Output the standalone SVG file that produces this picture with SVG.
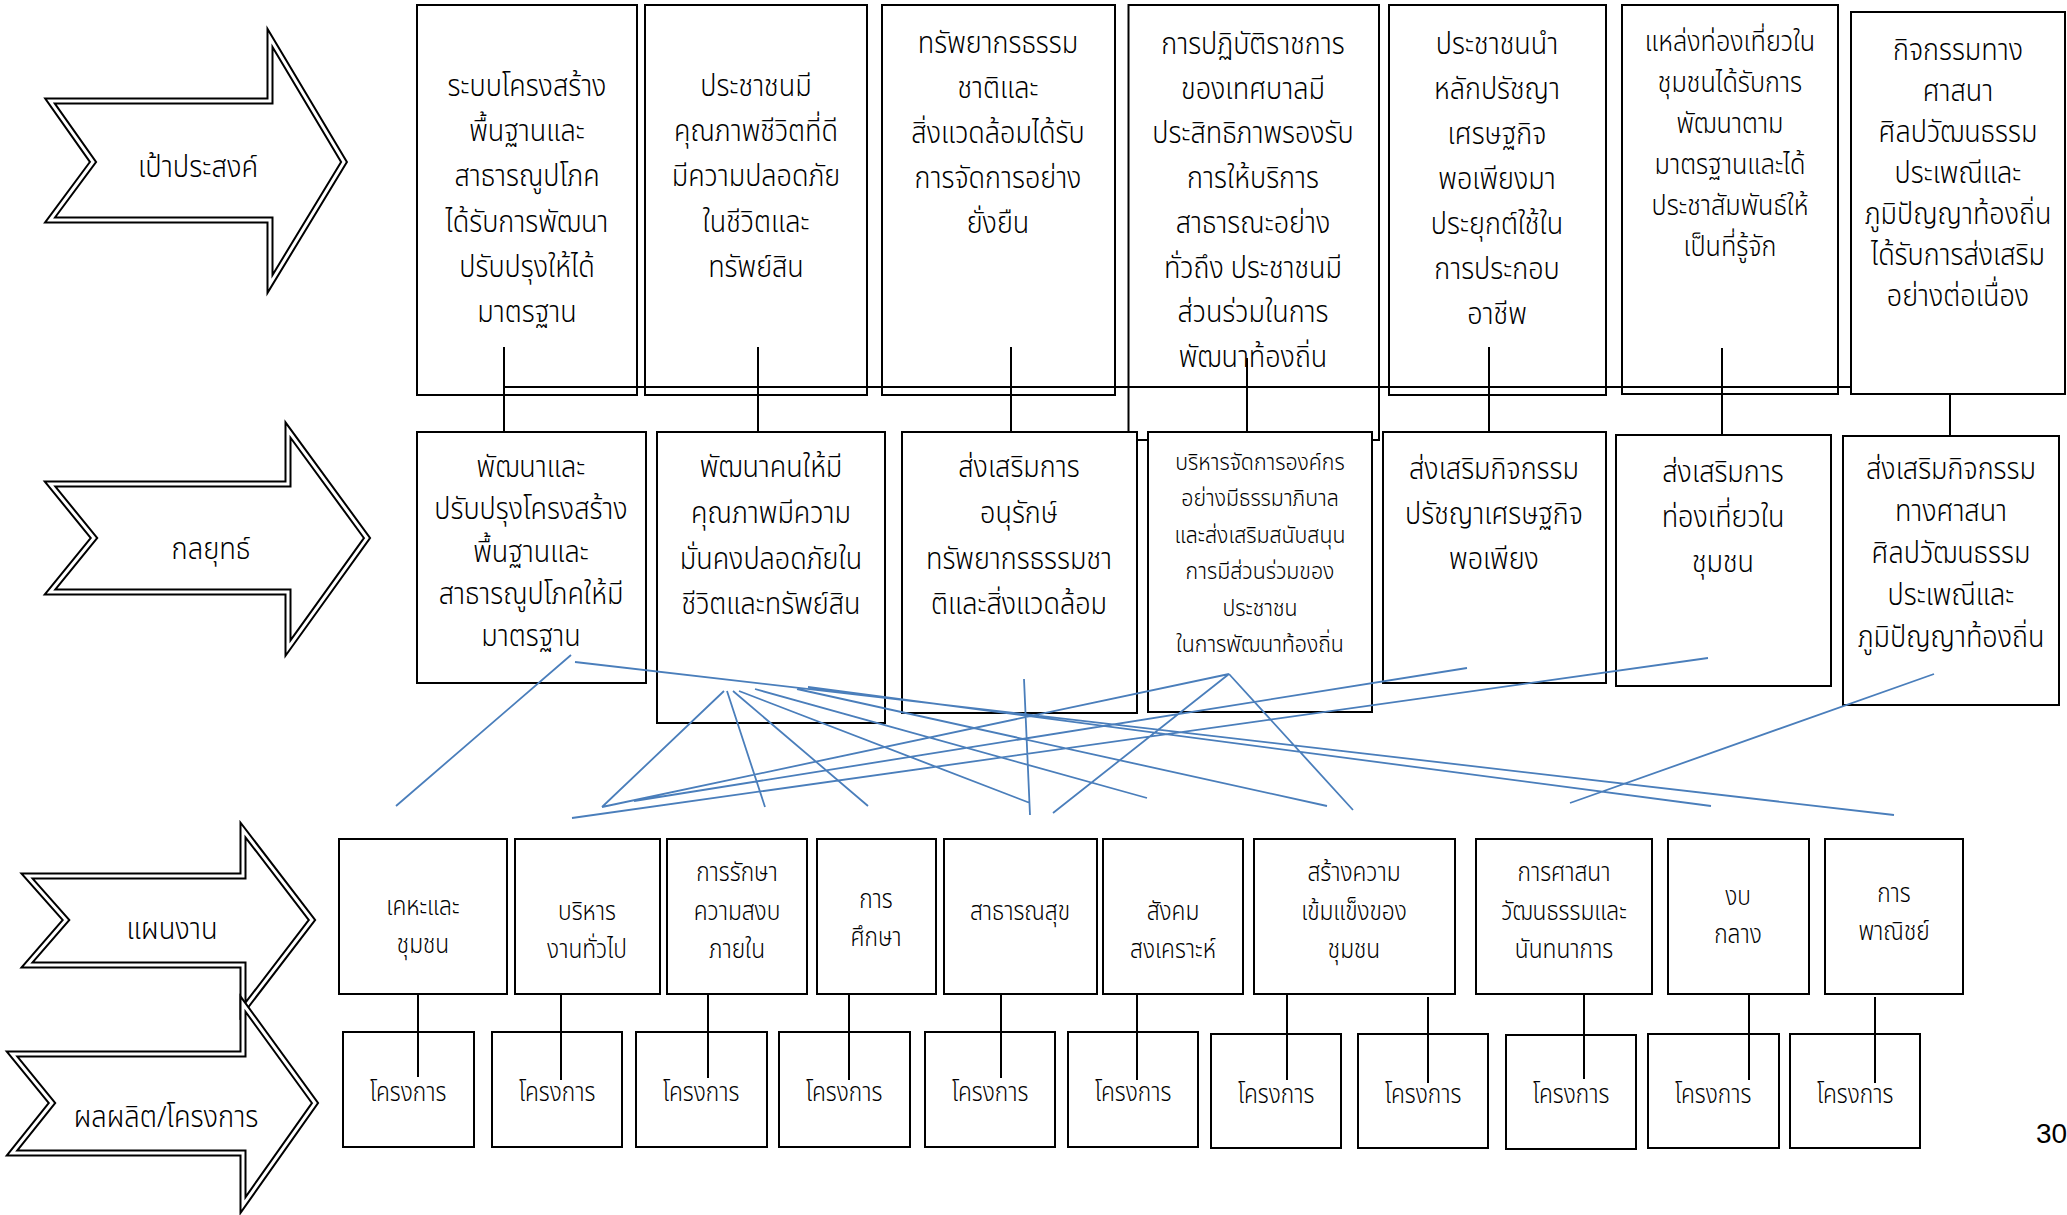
<svg xmlns="http://www.w3.org/2000/svg" width="2067" height="1215" viewBox="0 0 2067 1215">
<style>
.bx{fill:#fff;stroke:#000;stroke-width:2}
.t{font-family:"Noto Sans Thai","Noto Sans Thai UI","Noto Sans","DejaVu Sans",sans-serif;font-weight:300;fill:#000;text-anchor:middle}
.f30{font-size:30px}.f28{font-size:28px}.f24{font-size:24px}.f26{font-size:26px}
.ao{fill:#fff;stroke:#000;stroke-width:7;stroke-linejoin:miter}
.ai{fill:none;stroke:#fff;stroke-width:3;stroke-linejoin:miter}
.k{stroke:#000;stroke-width:2;fill:none}
.b{stroke:#4A7EBB;stroke-width:1.8;fill:none}
</style>
<rect width="2067" height="1215" fill="#fff"/>
<g id="arrow-goal">
<path class="ao" d="M50 101 H270 V38 L344 162 L270 284 V220 H50 L93 162 Z"/>
<path class="ai" d="M50 101 H270 V38 L344 162 L270 284 V220 H50 L93 162 Z"/>
<text class="t f30" transform="matrix(0.91 0 0 1 17.82 0)" x="198" y="177">เป้าประสงค์</text>
</g>
<g id="arrow-strategy">
<path class="ao" d="M50 484 H288 V430 L367 538 L288 648 V592 H50 L94 538 Z"/>
<path class="ai" d="M50 484 H288 V430 L367 538 L288 648 V592 H50 L94 538 Z"/>
<text class="t f30" transform="matrix(0.91 0 0 1 18.99 0)" x="211" y="559">กลยุทธ์</text>
</g>
<g id="arrow-plan">
<path class="ao" d="M27 876 H243 V830 L312 920 L243 1010 V965 H27 L66 920 Z"/>
<path class="ai" d="M27 876 H243 V830 L312 920 L243 1010 V965 H27 L66 920 Z"/>
<text class="t f30" transform="matrix(0.91 0 0 1 15.48 0)" x="172" y="939">แผนงาน</text>
</g>
<g id="arrow-output">
<path class="ao" d="M12 1054 H243 V1004 L315 1103 L243 1205 V1153 H12 L52 1103 Z"/>
<path class="ai" d="M12 1054 H243 V1004 L315 1103 L243 1205 V1153 H12 L52 1103 Z"/>
<text class="t f30" transform="matrix(0.91 0 0 1 14.94 0)" x="166" y="1127">ผลผลิต/โครงการ</text>
</g>
<g id="goal1"><rect class="bx" x="417" y="5" width="220" height="390"/>
<text class="t f30" transform="matrix(0.9 0 0 1 52.7 0)"><tspan x="527" y="96">ระบบโครงสร้าง</tspan><tspan x="527" y="141">พื้นฐานและ</tspan><tspan x="527" y="186">สาธารณูปโภค</tspan><tspan x="527" y="232">ได้รับการพัฒนา</tspan><tspan x="527" y="277">ปรับปรุงให้ได้</tspan><tspan x="527" y="322">มาตรฐาน</tspan></text></g>
<g id="goal2"><rect class="bx" x="645" y="5" width="222" height="390"/>
<text class="t f30" transform="matrix(0.9 0 0 1 75.6 0)"><tspan x="756" y="96">ประชาชนมี</tspan><tspan x="756" y="141">คุณภาพชีวิตที่ดี</tspan><tspan x="756" y="186">มีความปลอดภัย</tspan><tspan x="756" y="232">ในชีวิตและ</tspan><tspan x="756" y="277">ทรัพย์สิน</tspan></text></g>
<g id="goal3"><rect class="bx" x="882" y="5" width="233" height="390"/>
<text class="t f30" transform="matrix(0.9 0 0 1 99.8 0)"><tspan x="998" y="53">ทรัพยากรธรรม</tspan><tspan x="998" y="98">ชาติและ</tspan><tspan x="998" y="143">สิ่งแวดล้อมได้รับ</tspan><tspan x="998" y="188">การจัดการอย่าง</tspan><tspan x="998" y="233">ยั่งยืน</tspan></text></g>
<g id="goal4"><rect class="bx" x="1128.5" y="5" width="250.5" height="435"/>
<text class="t f30" transform="matrix(0.9 0 0 1 125.3 0)"><tspan x="1253" y="54">การปฏิบัติราชการ</tspan><tspan x="1253" y="99">ของเทศบาลมี</tspan><tspan x="1253" y="143">ประสิทธิภาพรองรับ</tspan><tspan x="1253" y="188">การให้บริการ</tspan><tspan x="1253" y="233">สาธารณะอย่าง</tspan><tspan x="1253" y="278">ทั่วถึง ประชาชนมี</tspan><tspan x="1253" y="322">ส่วนร่วมในการ</tspan><tspan x="1253" y="367">พัฒนาท้องถิ่น</tspan></text></g>
<g id="goal5"><rect class="bx" x="1389" y="5" width="217" height="390"/>
<text class="t f30" transform="matrix(0.9 0 0 1 149.7 0)"><tspan x="1497" y="54">ประชาชนนำ</tspan><tspan x="1497" y="99">หลักปรัชญา</tspan><tspan x="1497" y="144">เศรษฐกิจ</tspan><tspan x="1497" y="189">พอเพียงมา</tspan><tspan x="1497" y="234">ประยุกต์ใช้ใน</tspan><tspan x="1497" y="279">การประกอบ</tspan><tspan x="1497" y="324">อาชีพ</tspan></text></g>
<g id="goal6"><rect class="bx" x="1622" y="5" width="216" height="389"/>
<text class="t f28" transform="matrix(0.9 0 0 1 173 0)"><tspan x="1730" y="51">แหล่งท่องเที่ยวใน</tspan><tspan x="1730" y="92">ชุมชนได้รับการ</tspan><tspan x="1730" y="133">พัฒนาตาม</tspan><tspan x="1730" y="174">มาตรฐานและได้</tspan><tspan x="1730" y="215">ประชาสัมพันธ์ให้</tspan><tspan x="1730" y="256">เป็นที่รู้จัก</tspan></text></g>
<g id="goal7"><rect class="bx" x="1851" y="12" width="214" height="382"/>
<text class="t f30" transform="matrix(0.9 0 0 1 195.8 0)"><tspan x="1958" y="60">กิจกรรมทาง</tspan><tspan x="1958" y="101">ศาสนา</tspan><tspan x="1958" y="142">ศิลปวัฒนธรรม</tspan><tspan x="1958" y="183">ประเพณีและ</tspan><tspan x="1958" y="224">ภูมิปัญญาท้องถิ่น</tspan><tspan x="1958" y="265">ได้รับการส่งเสริม</tspan><tspan x="1958" y="306">อย่างต่อเนื่อง</tspan></text></g>
<g id="strat1"><rect class="bx" x="417" y="432" width="229" height="251"/>
<text class="t f30" transform="matrix(0.9 0 0 1 53.1 0)"><tspan x="531" y="477">พัฒนาและ</tspan><tspan x="531" y="519">ปรับปรุงโครงสร้าง</tspan><tspan x="531" y="562">พื้นฐานและ</tspan><tspan x="531" y="604">สาธารณูปโภคให้มี</tspan><tspan x="531" y="646">มาตรฐาน</tspan></text></g>
<g id="strat2"><rect class="bx" x="657" y="432" width="228" height="291"/>
<text class="t f30" transform="matrix(0.9 0 0 1 77.1 0)"><tspan x="771" y="477">พัฒนาคนให้มี</tspan><tspan x="771" y="523">คุณภาพมีความ</tspan><tspan x="771" y="569">มั่นคงปลอดภัยใน</tspan><tspan x="771" y="614">ชีวิตและทรัพย์สิน</tspan></text></g>
<g id="strat3"><rect class="bx" x="902" y="432" width="235" height="281"/>
<text class="t f30" transform="matrix(0.9 0 0 1 101.9 0)"><tspan x="1019" y="477">ส่งเสริมการ</tspan><tspan x="1019" y="523">อนุรักษ์</tspan><tspan x="1019" y="569">ทรัพยากรธรรมชา</tspan><tspan x="1019" y="614">ติและสิ่งแวดล้อม</tspan></text></g>
<g id="strat4"><rect class="bx" x="1148" y="432" width="224" height="280"/>
<text class="t f24" transform="matrix(0.89 0 0 1 138.6 0)"><tspan x="1260" y="470">บริหารจัดการองค์กร</tspan><tspan x="1260" y="506">อย่างมีธรรมาภิบาล</tspan><tspan x="1260" y="543">และส่งเสริมสนับสนุน</tspan><tspan x="1260" y="579">การมีส่วนร่วมของ</tspan><tspan x="1260" y="616">ประชาชน</tspan><tspan x="1260" y="652">ในการพัฒนาท้องถิ่น</tspan></text></g>
<g id="strat5"><rect class="bx" x="1383" y="432" width="223" height="251"/>
<text class="t f30" transform="matrix(0.9 0 0 1 149.4 0)"><tspan x="1494" y="479">ส่งเสริมกิจกรรม</tspan><tspan x="1494" y="524">ปรัชญาเศรษฐกิจ</tspan><tspan x="1494" y="569">พอเพียง</tspan></text></g>
<g id="strat6"><rect class="bx" x="1616" y="435" width="215" height="251"/>
<text class="t f30" transform="matrix(0.9 0 0 1 172.3 0)"><tspan x="1723" y="482">ส่งเสริมการ</tspan><tspan x="1723" y="527">ท่องเที่ยวใน</tspan><tspan x="1723" y="572">ชุมชน</tspan></text></g>
<g id="strat7"><rect class="bx" x="1843" y="436" width="216" height="269"/>
<text class="t f30" transform="matrix(0.9 0 0 1 195.1 0)"><tspan x="1951" y="479">ส่งเสริมกิจกรรม</tspan><tspan x="1951" y="521">ทางศาสนา</tspan><tspan x="1951" y="563">ศิลปวัฒนธรรม</tspan><tspan x="1951" y="605">ประเพณีและ</tspan><tspan x="1951" y="647">ภูมิปัญญาท้องถิ่น</tspan></text></g>
<g id="plan1"><rect class="bx" x="339" y="839" width="168" height="155"/>
<text class="t f26" transform="matrix(0.875 0 0 1 52.875 0)"><tspan x="423" y="915">เคหะและ</tspan><tspan x="423" y="953">ชุมชน</tspan></text></g>
<g id="plan2"><rect class="bx" x="515" y="839" width="145" height="155"/>
<text class="t f26" transform="matrix(0.875 0 0 1 73.375 0)"><tspan x="587" y="920">บริหาร</tspan><tspan x="587" y="958">งานทั่วไป</tspan></text></g>
<g id="plan3"><rect class="bx" x="667" y="839" width="140" height="155"/>
<text class="t f26" transform="matrix(0.875 0 0 1 92.125 0)"><tspan x="737" y="881">การรักษา</tspan><tspan x="737" y="920">ความสงบ</tspan><tspan x="737" y="958">ภายใน</tspan></text></g>
<g id="plan4"><rect class="bx" x="817" y="839" width="119" height="155"/>
<text class="t f26" transform="matrix(0.875 0 0 1 109.5 0)"><tspan x="876" y="908">การ</tspan><tspan x="876" y="946">ศึกษา</tspan></text></g>
<g id="plan5"><rect class="bx" x="944" y="839" width="153" height="155"/>
<text class="t f26" transform="matrix(0.875 0 0 1 127.5 0)" x="1020" y="920">สาธารณสุข</text></g>
<g id="plan6"><rect class="bx" x="1103" y="839" width="140" height="155"/>
<text class="t f26" transform="matrix(0.875 0 0 1 146.625 0)"><tspan x="1173" y="920">สังคม</tspan><tspan x="1173" y="958">สงเคราะห์</tspan></text></g>
<g id="plan7"><rect class="bx" x="1254" y="839" width="201" height="155"/>
<text class="t f26" transform="matrix(0.875 0 0 1 169.25 0)"><tspan x="1354" y="881">สร้างความ</tspan><tspan x="1354" y="920">เข้มแข็งของ</tspan><tspan x="1354" y="958">ชุมชน</tspan></text></g>
<g id="plan8"><rect class="bx" x="1476" y="839" width="176" height="155"/>
<text class="t f26" transform="matrix(0.875 0 0 1 195.5 0)"><tspan x="1564" y="881">การศาสนา</tspan><tspan x="1564" y="920">วัฒนธรรมและ</tspan><tspan x="1564" y="958">นันทนาการ</tspan></text></g>
<g id="plan9"><rect class="bx" x="1668" y="839" width="141" height="155"/>
<text class="t f26" transform="matrix(0.875 0 0 1 217.25 0)"><tspan x="1738" y="905">งบ</tspan><tspan x="1738" y="943">กลาง</tspan></text></g>
<g id="plan10"><rect class="bx" x="1825" y="839" width="138" height="155"/>
<text class="t f26" transform="matrix(0.875 0 0 1 236.75 0)"><tspan x="1894" y="902">การ</tspan><tspan x="1894" y="940">พาณิชย์</tspan></text></g>
<g id="proj1"><rect class="bx" x="343" y="1032" width="131" height="115"/><text class="t f26" transform="matrix(0.875 0 0 1 51 0)" x="408" y="1101">โครงการ</text></g>
<g id="proj2"><rect class="bx" x="492" y="1032" width="130" height="115"/><text class="t f26" transform="matrix(0.875 0 0 1 69.625 0)" x="557" y="1101">โครงการ</text></g>
<g id="proj3"><rect class="bx" x="636" y="1032" width="131" height="115"/><text class="t f26" transform="matrix(0.875 0 0 1 87.625 0)" x="701" y="1101">โครงการ</text></g>
<g id="proj4"><rect class="bx" x="779" y="1032" width="131" height="115"/><text class="t f26" transform="matrix(0.875 0 0 1 105.5 0)" x="844" y="1101">โครงการ</text></g>
<g id="proj5"><rect class="bx" x="925" y="1032" width="130" height="115"/><text class="t f26" transform="matrix(0.875 0 0 1 123.75 0)" x="990" y="1101">โครงการ</text></g>
<g id="proj6"><rect class="bx" x="1068" y="1032" width="130" height="115"/><text class="t f26" transform="matrix(0.875 0 0 1 141.625 0)" x="1133" y="1101">โครงการ</text></g>
<g id="proj7"><rect class="bx" x="1211" y="1034" width="130" height="114"/><text class="t f26" transform="matrix(0.875 0 0 1 159.5 0)" x="1276" y="1103">โครงการ</text></g>
<g id="proj8"><rect class="bx" x="1358" y="1034" width="130" height="114"/><text class="t f26" transform="matrix(0.875 0 0 1 177.875 0)" x="1423" y="1103">โครงการ</text></g>
<g id="proj9"><rect class="bx" x="1506" y="1035" width="130" height="114"/><text class="t f26" transform="matrix(0.875 0 0 1 196.375 0)" x="1571" y="1103">โครงการ</text></g>
<g id="proj10"><rect class="bx" x="1648" y="1034" width="131" height="114"/><text class="t f26" transform="matrix(0.875 0 0 1 214.125 0)" x="1713" y="1103">โครงการ</text></g>
<g id="proj11"><rect class="bx" x="1790" y="1034" width="130" height="114"/><text class="t f26" transform="matrix(0.875 0 0 1 231.875 0)" x="1855" y="1103">โครงการ</text></g>
<g id="connectors">
<path class="k" d="M504 387 H1851 M504 347 V432 M758 347 V432 M1011 347 V432 M1247 358 V432 M1489 347 V432 M1722 348 V435 M1950 394 V436"/>
<path class="k" d="M418 994 V1077 M561 994 V1080 M708 994 V1078 M849 994 V1080 M1001 994 V1078 M1137 994 V1080 M1287 994 V1080 M1428 997 V1083 M1584 994 V1079 M1749 994 V1080 M1875 997 V1083"/>
<path class="b" d="M571 655 L396 806 M575 662 L1894 815 M724 691 L602 807 M727 691 L765 807 M733 691 L868 806 M739 691 L1030 803 M755 689 L1147 798 M797 689 L1327 806 M808 687 L1711 806 M1024 679 L1030 815 M1229 674 L602 807 M1229 674 L1053 813 M1229 674 L1353 810 M1467 668 L634 801 M1708 658 L572 818 M1934 674 L1570 803"/>
</g>
<text x="2036" y="1143" style="font-family:'Liberation Sans',sans-serif;font-size:28px">30</text>
</svg>
